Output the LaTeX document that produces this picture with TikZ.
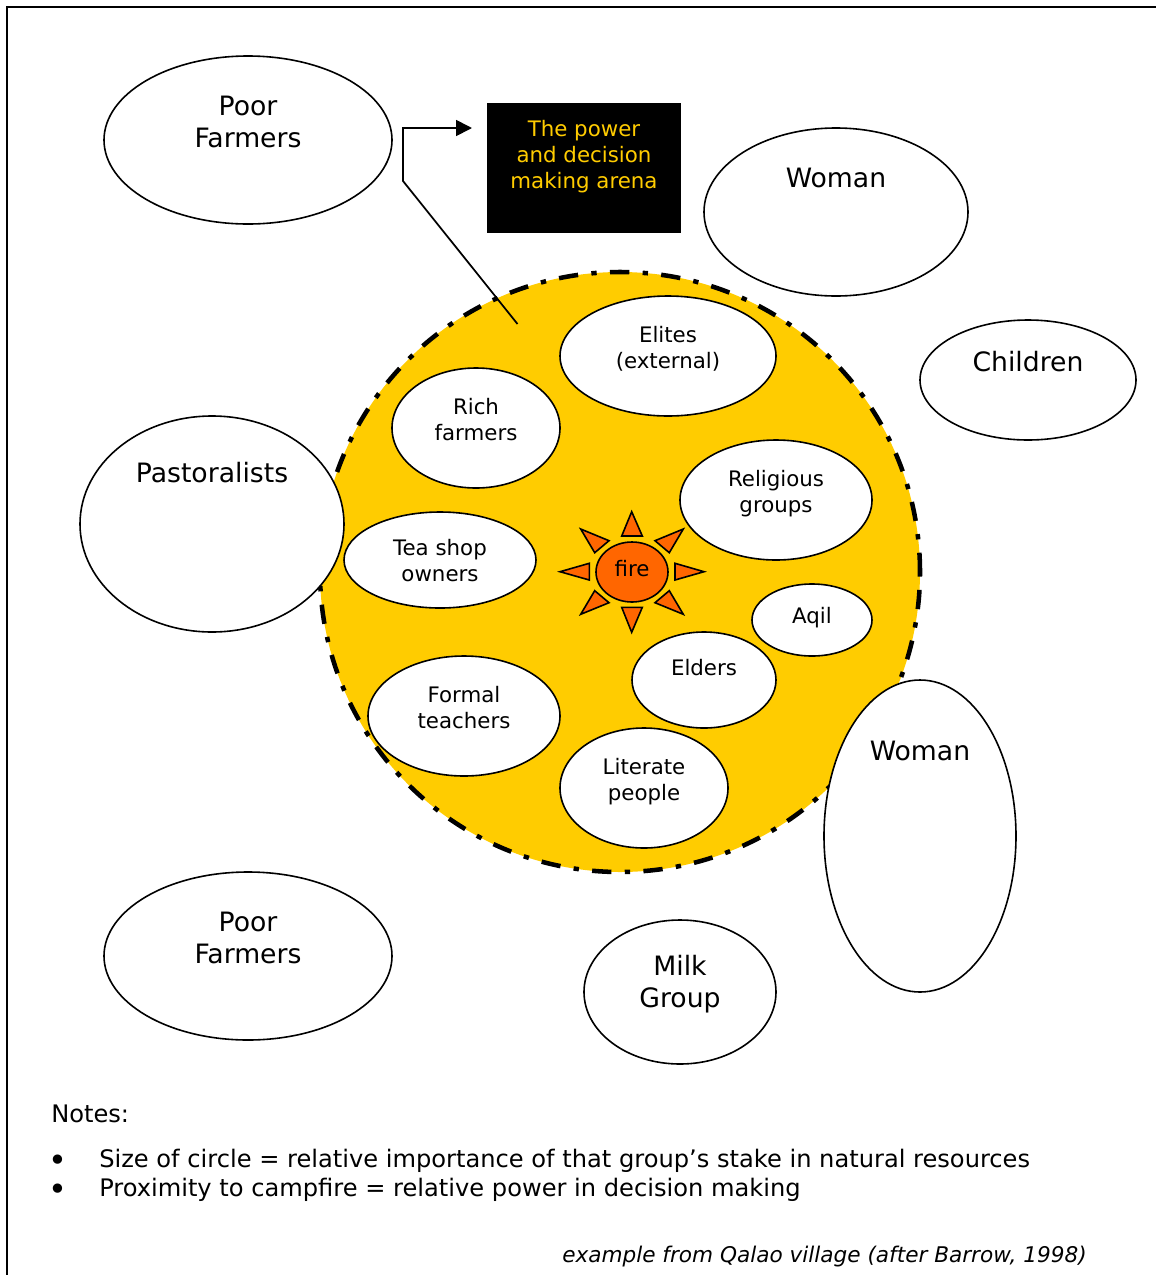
\documentclass[tikz,border=0pt]{standalone}
\usepackage{fontspec}
\setmainfont{DejaVu Sans}
\usetikzlibrary{shapes.geometric,arrows.meta}
\tikzset{
  x=0.75pt,y=-0.75pt,
  ell/.style n args={2}{ellipse,draw=black,fill=white,line width=1.2pt,inner sep=0pt,outer sep=0pt,minimum width=#1*0.75pt,minimum height=#2*0.75pt},
  arena/.style={circle,draw=black,fill=arenagold,line width=3.4pt,inner sep=0pt,outer sep=0pt,minimum size=600*0.75pt,dash pattern=on 14.5pt off 10pt on 4pt off 10pt},
  biglab/.style={align=center,inner sep=0pt,font=\fontsize{20}{24}\selectfont},
  smalllab/.style={align=center,inner sep=0pt,font=\fontsize{16}{19.5}\selectfont},
  notelab/.style={inner sep=0pt,font=\fontsize{18.1}{22}\selectfont},
  ray/.style={draw=black,fill=fireorange,line width=1.2pt,line join=miter},
  frameline/.style={draw=black,line width=1.5pt},
  pointer/.style={draw=black,line width=1.3pt,line join=miter,-{Triangle[length=12pt,width=12pt]}}
}
\definecolor{arenagold}{HTML}{FFCC00}
\definecolor{fireorange}{HTML}{FF6600}
\begin{document}
\begin{tikzpicture}
\useasboundingbox (0,0) rectangle (1156,1275);
\fill[white] (0,0) rectangle (1156,1275);
\coordinate (ftl) at (7,7);
\coordinate (ftr) at (1156,7);
\coordinate (fbl) at (7,1275);
\draw[frameline] (ftr) -- (ftl) -- (fbl);

\node[arena] (arena) at (620,572) {};

% pointer
\coordinate (pstart) at (517.5,324);
\coordinate (pbend) at (403,181);
\coordinate (pcorner) at (403,128);
\coordinate (ptip) at (472,128);
\draw[pointer] (pstart) -- (pbend) -- (pcorner) -- (ptip);

% black box
\node[fill=black,draw=none,inner sep=0pt,minimum width=194*0.75pt,minimum height=130*0.75pt] (box) at (584,168) {};
\node[biglab,text=arenagold,font=\fontsize{16}{19.5}\selectfont] (boxt) at (584,157) {The power\\and decision\\making arena};

% outer groups
\node[ell={288}{168}] (pf1) at (248,140) {};
\node[biglab] (pf1t) at (248,122) {Poor\\Farmers};
\node[ell={264}{168}] (w1) at (836,212) {};
\node[biglab] (w1t) at (836,178) {Woman};
\node[ell={216}{120}] (ch) at (1028,380) {};
\node[biglab] (cht) at (1028,362) {Children};
\node[ell={264}{216}] (pa) at (212,524) {};
\node[biglab] (pat) at (212,473) {Pastoralists};
\node[ell={192}{312}] (w2) at (920,836) {};
\node[biglab] (w2t) at (920,751) {Woman};
\node[ell={288}{168}] (pf2) at (248,956) {};
\node[biglab] (pf2t) at (248,938) {Poor\\Farmers};
\node[ell={192}{144}] (mg) at (680,992) {};
\node[biglab] (mgt) at (680,984) {Milk\\Group};

% inner groups
\node[ell={216}{120}] (el) at (668,356) {};
\node[smalllab] (elt) at (668,349) {Elites\\(external)};
\node[ell={168}{120}] (ri) at (476,428) {};
\node[smalllab] (rit) at (476,420) {Rich\\farmers};
\node[ell={192}{120}] (re) at (776,500) {};
\node[smalllab] (ret) at (776,494) {Religious\\groups};
\node[ell={192}{96}] (te) at (440,560) {};
\node[smalllab] (tet) at (440,561) {Tea shop\\owners};
\node[ell={120}{72}] (aq) at (812,620) {};
\node[smalllab] (aqt) at (812,618) {Aqil};
\node[ell={144}{96}] (eld) at (704,680) {};
\node[smalllab] (eldt) at (704,668) {Elders};
\node[ell={192}{120}] (fo) at (464,716) {};
\node[smalllab] (fot) at (464,708) {Formal\\teachers};
\node[ell={168}{120}] (li) at (644,788) {};
\node[smalllab] (lit) at (644,782) {Literate\\people};

% fire
\node[ellipse,draw=black,fill=fireorange,line width=1.2pt,inner sep=0pt,minimum width=72*0.75pt,minimum height=60*0.75pt] (fire) at (632,572) {};
\node[smalllab] (firet) at (632,569) {fire};
\draw[ray] (631.7,511.7) -- (621.7,536) -- (642.3,536) -- cycle;
\draw[ray] (704,571.7) -- (675,563.3) -- (675,580) -- cycle;
\draw[ray] (560,571.7) -- (589.3,563.3) -- (589.3,580) -- cycle;
\draw[ray] (631.7,632.3) -- (621.7,607.3) -- (642.3,607.3) -- cycle;
\draw[ray] (580.7,529) -- (609,540.7) -- (594.7,552.7) -- cycle;
\draw[ray] (683.3,529) -- (655,540.7) -- (669.3,552.7) -- cycle;
\draw[ray] (580.7,614.3) -- (609,602.7) -- (594.7,590.7) -- cycle;
\draw[ray] (683.3,614.3) -- (655,602.7) -- (669.3,590.7) -- cycle;

% notes
\node[notelab,anchor=base west] (notes) at (51,1122) {Notes:};
\node[notelab,anchor=base,font=\fontsize{24}{28}\selectfont] (b1) at (58,1171) {•};
\node[notelab,anchor=base west] (n1) at (99,1167) {Size of circle = relative importance of that group’s stake in natural resources};
\node[notelab,anchor=base,font=\fontsize{24}{28}\selectfont] (b2) at (58,1200) {•};
\node[notelab,anchor=base west] (n2) at (99,1196) {Proximity to campfire = relative power in decision making};
\node[notelab,anchor=base east,font=\fontsize{16.2}{20}\selectfont\itshape] (src) at (1087,1262) {example from Qalao village (after Barrow, 1998)};
\end{tikzpicture}
\end{document}
